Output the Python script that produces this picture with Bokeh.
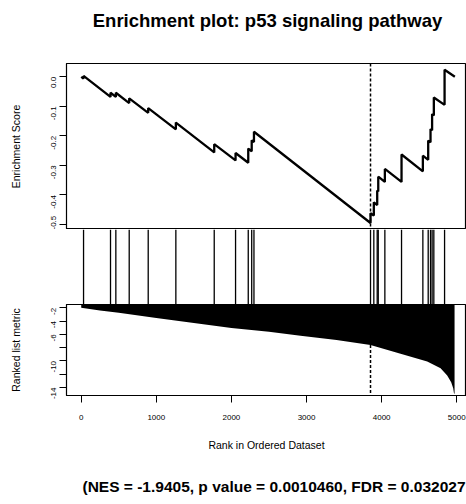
import math
from bokeh.plotting import figure
from bokeh.layouts import column
from bokeh.models import Range1d, FixedTicker, Label, Span
from bokeh.embed import file_html
from bokeh.resources import INLINE

# ---- data ----
title_text = "Enrichment plot: p53 signaling pathway"
stats_text = "(NES = -1.9405, p value = 0.0010460, FDR = 0.032027"

# running enrichment score vertices (rank, ES)
es_rank = [0, 31, 31, 390, 390, 461, 461, 639, 639, 892, 892, 1260, 1260,
           1771, 1771, 2055, 2055, 2224, 2224, 2270, 2270, 2300, 2300,
           3852, 3852, 3896, 3896, 3941, 3941, 3955, 3955, 4043, 4043,
           4265, 4265, 4549, 4549, 4620, 4620, 4651, 4651, 4672, 4672,
           4695, 4695, 4838, 4838, 4975]
es_value = [0.0, -0.006, 0.003, -0.068, -0.054, -0.068, -0.054, -0.089, -0.073,
            -0.122, -0.106, -0.178, -0.155, -0.256, -0.228, -0.283, -0.258,
            -0.291, -0.243, -0.252, -0.215, -0.221, -0.186,
            -0.495, -0.462, -0.470, -0.425, -0.434, -0.385, -0.388, -0.338,
            -0.356, -0.312, -0.356, -0.263, -0.320, -0.267, -0.281, -0.216,
            -0.222, -0.177, -0.181, -0.126, -0.131, -0.070, -0.095, 0.024, 0.0]

# gene-set hit positions (barcode)
hit_rank = [31, 390, 461, 639, 892, 1260, 1771, 2055, 2224, 2270, 2300,
            3852, 3896, 3941, 3955, 4043, 4265, 4549, 4620, 4651, 4672,
            4695, 4838]

# ranked list metric (rank, metric)
metric_rank = [0, 250, 500, 1000, 1500, 2000, 2500, 2920, 3400, 3852, 4252,
               4607, 4785, 4873, 4926, 4953, 4962, 4971]
metric_value = [-2.0, -2.4, -2.75, -3.55, -4.3, -5.05, -5.6, -6.2, -6.85, -7.6,
                -8.9, -10.1, -11.1, -12.2, -13.2, -14.1, -14.8, -15.0]

leading_edge_rank = 3852
leading_edge_metric = -7.6

es_ticks = [-0.5, -0.4, -0.3, -0.2, -0.1, 0.0]
es_tick_labels = {-0.5: "-0.5", -0.4: "-0.4", -0.3: "-0.3", -0.2: "-0.2",
                  -0.1: "-0.1", 0.0: "0.0"}
metric_ticks = [-14, -12, -10, -8, -6, -4, -2]
metric_tick_labels = {-14: "-14", -12: "", -10: "-10", -8: "", -6: "-6",
                      -4: "-4", -2: "-2"}
x_ticks = [0, 1000, 2000, 3000, 4000, 5000]

FONT = "Liberation Sans"
W = 466
xr = Range1d(-196, 5130)


def base(fig):
    fig.xgrid.visible = False
    fig.ygrid.visible = False
    fig.background_fill_color = "white"
    fig.border_fill_color = "white"
    return fig


def text_strip(height):
    f = base(figure(width=W, height=height, x_range=Range1d(0, 1),
                    y_range=Range1d(0, 1), output_backend="svg",
                    toolbar_location=None, x_axis_location=None,
                    y_axis_location=None, min_border_left=66,
                    min_border_right=0, min_border_top=0,
                    min_border_bottom=0))
    f.outline_line_color = None
    return f


def style_y(ax, ticks, labels, label):
    ax.ticker = FixedTicker(ticks=ticks)
    ax.major_label_overrides = labels
    ax.major_label_orientation = math.pi / 2
    ax.major_tick_out = 7
    ax.major_tick_in = 0
    ax.minor_tick_line_color = None
    ax.axis_line_color = "black"
    ax.major_tick_line_color = "black"
    ax.major_label_text_font = FONT
    ax.major_label_text_font_size = "8px"
    ax.major_label_text_color = "black"
    ax.major_label_standoff = 6
    ax.axis_label = label
    ax.axis_label_text_font = FONT
    ax.axis_label_text_font_size = "10.5px"
    ax.axis_label_text_font_style = "normal"
    ax.axis_label_text_color = "black"
    ax.axis_label_standoff = 24


# ---- title strip (frame starts at x=66) ----
p0 = text_strip(40)
p0.add_layout(Label(x=201, y=20, x_units="screen", y_units="screen",
                    text=title_text, text_font=FONT, text_font_size="18.5px",
                    text_font_style="bold", text_align="center",
                    text_baseline="middle", text_color="black"))

# ---- top panel: running enrichment score ----
p1 = base(figure(width=W, height=189, x_range=xr, y_range=Range1d(-0.517, 0.045),
                 output_backend="svg", toolbar_location=None,
                 x_axis_location=None,
                 min_border_left=66, min_border_right=0,
                 min_border_top=23, min_border_bottom=0))
p1.outline_line_color = "black"
p1.outline_line_width = 1.2
style_y(p1.yaxis[0], es_ticks, es_tick_labels, "Enrichment Score")
p1.line(es_rank, es_value, line_color="black", line_width=2.3)
p1.add_layout(Span(location=leading_edge_rank, dimension="height",
                   line_color="black", line_dash="3 2", line_width=1.5))

# ---- middle panel: hit barcode ----
p2 = base(figure(width=W, height=75, x_range=xr, y_range=Range1d(0, 1),
                 output_backend="svg", toolbar_location=None,
                 x_axis_location=None, y_axis_location=None,
                 min_border_left=66, min_border_right=0,
                 min_border_top=0, min_border_bottom=0))
p2.outline_line_color = None
p2.segment(x0=hit_rank, y0=0, x1=hit_rank, y1=1, line_color="black",
           line_width=1.3)

# ---- bottom panel: ranked list metric ----
p3 = base(figure(width=W, height=160, x_range=xr, y_range=Range1d(-15.2, -1.5),
                 output_backend="svg", toolbar_location=None,
                 min_border_left=66, min_border_right=0,
                 min_border_top=0, min_border_bottom=69))
p3.outline_line_color = "black"
p3.outline_line_width = 1.2
style_y(p3.yaxis[0], metric_ticks, metric_tick_labels, "Ranked list metric")
xa = p3.xaxis[0]
xa.ticker = FixedTicker(ticks=x_ticks)
xa.major_tick_out = 7
xa.major_tick_in = 0
xa.minor_tick_line_color = None
xa.axis_line_color = "black"
xa.major_label_text_font = FONT
xa.major_label_text_font_size = "8px"
xa.major_label_text_color = "black"
xa.major_label_standoff = 12
xa.axis_label = "Rank in Ordered Dataset"
xa.axis_label_text_font = FONT
xa.axis_label_text_font_size = "10.5px"
xa.axis_label_text_font_style = "normal"
xa.axis_label_text_color = "black"
xa.axis_label_standoff = 16

p3.varea(x=metric_rank, y1=metric_value, y2=0, fill_color="black")
p3.segment(x0=[leading_edge_rank], y0=[leading_edge_metric],
           x1=[leading_edge_rank], y1=[p3.y_range.start],
           line_color="black", line_dash="3 2", line_width=1.5)

# ---- statistics strip (frame starts at x=66) ----
p4 = text_strip(40)
p4.add_layout(Label(x=399, y=18, x_units="screen", y_units="screen",
                    text=stats_text, text_font=FONT, text_font_size="15.5px",
                    text_font_style="bold", text_align="right",
                    text_baseline="middle", text_color="black"))

layout = column(p0, p1, p2, p3, p4, spacing=0)
open("out.html", "w").write(file_html(layout, INLINE))
